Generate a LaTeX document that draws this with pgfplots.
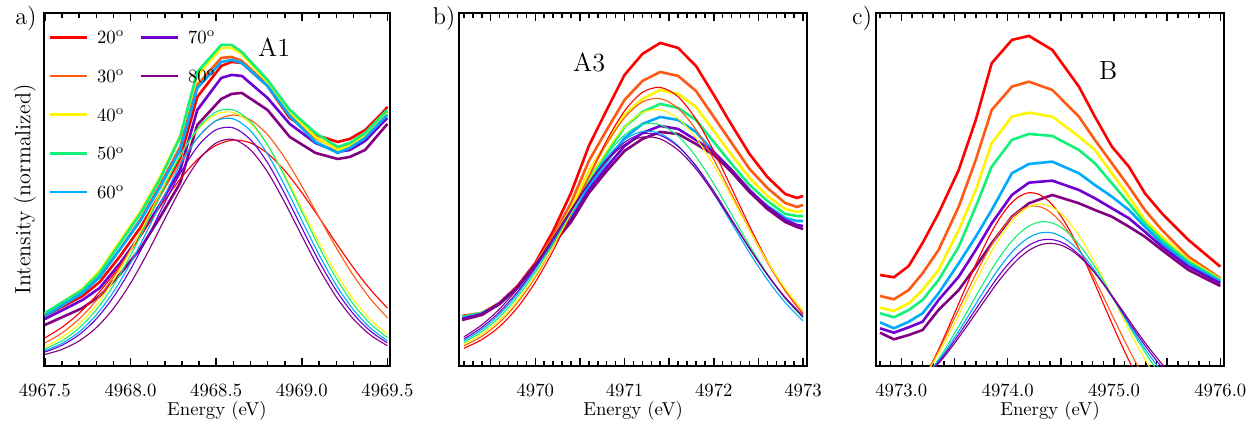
\documentclass[border=0pt]{standalone}
\usepackage{pgfplots}
\usepackage{pgfplotstable}
\pgfplotsset{compat=1.18}
\definecolor{c20}{RGB}{255,0,0}
\definecolor{c30}{RGB}{255,90,20}
\definecolor{c40}{RGB}{255,245,0}
\definecolor{c50}{RGB}{20,240,120}
\definecolor{c60}{RGB}{0,170,255}
\definecolor{c70}{RGB}{110,0,210}
\definecolor{c80}{RGB}{130,0,130}

% ---------- panel a ----------
\pgfplotstableread{
E r o y g b v p
4967.50 50 51 52 53 50 47 41
4967.72 70 74 77 76 73 66 58
4967.82 84 89 95 93 89 78 70
4967.94 110 117 125 123 117 103 92
4968.06 139 147 155 153 146 131 118
4968.17 171 180 188 186 178 161 148
4968.29 208 219 230 229 216 196 183
4968.39 269 281 290 294 278 256 241
4968.53 300 308 318 321 304 288 267
4968.59 304 309 318 321 306 291 272
4968.65 303 305 312 314 303 290 273
4968.80 280 281 284 286 280 268 256
4968.93 248 251 254 256 250 242 229
4969.08 231 228 229 233 224 223 213
4969.21 224 217 216 219 213 214 207
4969.28 227 221 220 223 218 216 209
4969.37 236 231 230 233 228 225 216
4969.47 253 249 248 251 246 243 236
4969.50 259 254 253 256 251 248 242
}\thickA
\pgfplotstableread{
E r o y g b v p
4967.5 28.1 23.0 19.2 17.0 15.2 14.0 11.5
4967.6 38.7 33.0 28.4 25.3 22.6 20.7 16.6
4967.7 52.7 47.0 42.0 38.0 34.1 31.3 25.1
4967.8 70.4 65.5 60.8 56.1 51.0 47.1 38.3
4967.9 91.4 88.8 85.4 80.4 73.9 68.8 57.4
4968.0 115.2 116.3 115.0 110.4 102.8 96.5 82.7
4968.1 140.6 146.5 148.3 144.6 136.1 128.9 113.3
4968.2 165.9 177.4 182.3 180.2 171.2 163.2 146.9
4968.3 189.0 206.1 213.4 213.2 204.0 195.5 179.5
4968.4 207.9 229.7 237.7 239.1 230.0 221.2 206.4
4968.5 220.6 245.3 251.7 254.2 245.2 236.2 223.0
4968.6 225.9 251.0 253.5 256.1 247.1 238.1 226.6
4968.7 223.1 246.1 242.6 244.4 235.3 226.4 216.2
4968.8 212.6 231.3 220.8 221.1 211.9 203.3 194.0
4968.9 195.5 208.3 191.2 189.6 180.6 172.4 163.7
4969.0 173.4 179.9 157.6 154.3 145.7 138.2 130.1
4969.1 148.6 149.0 123.8 119.4 111.5 104.9 97.6
4969.2 123.1 118.6 93.0 88.0 81.2 75.8 69.4
4969.3 98.6 90.9 66.9 62.1 56.6 52.4 47.2
4969.4 76.6 67.3 46.5 42.3 38.1 35.0 31.1
4969.5 57.9 48.3 31.6 28.3 25.3 23.1 20.3
}\thinA

% ---------- panel b ----------
\pgfplotstableread{
E r o y g b v p
4969.18 50 49 49 49 48 47 46
4969.40 53 53 53 53 52 52 51
4969.60 63 63 63 62 62 63 62
4969.80 80 79 79 78 78 79 79
4970.00 103 101 101 101 100 101 101
4970.20 135 130 127 125 123 123 122
4970.40 173 163 157 152 148 146 144
4970.60 220 205 195 187 180 176 173
4970.80 256 236 223 213 204 199 195
4971.00 291 266 251 239 228 220 215
4971.20 312 285 267 254 242 233 227
4971.40 323 294 276 262 249 240 234
4971.60 318 290 272 258 246 237 232
4971.80 300 275 259 246 234 226 222
4972.00 271 249 235 224 214 214 211
4972.20 241 223 211 202 194 196 194
4972.40 212 197 188 181 174 176 174
4972.60 189 178 170 165 160 159 157
4972.80 172 163 157 152 148 146 144
4972.93 168 159 154 150 145 141 139
4973.00 170 161 155 150 145 140 137
}\thickB
\pgfplotstableread{
E r o y g b v p
4969.2 17.7 20.1 21.8 23.6 25.3 27.0 29.1
4969.4 26.4 29.7 31.9 34.3 36.5 38.6 41.1
4969.6 39.5 43.7 46.2 49.2 51.8 54.1 57.1
4969.8 58.5 63.3 65.7 69.1 72.0 74.2 77.3
4970.0 83.8 88.7 90.4 93.8 96.7 98.5 101.5
4970.2 115.3 119.5 119.8 122.5 124.9 126.0 128.4
4970.4 151.5 154.0 152.3 153.5 154.8 154.9 156.4
4970.6 189.5 189.3 185.1 183.9 183.6 182.5 182.8
4970.8 225.5 222.1 215.2 210.8 208.4 206.4 205.4
4971.0 255.0 248.2 239.0 230.9 226.2 223.6 221.4
4971.2 273.5 264.0 253.4 241.5 234.5 232.1 228.9
4971.4 278.5 267.3 256.3 241.1 232.4 230.6 227.0
4971.6 269.2 257.6 247.5 229.9 220.1 219.5 215.9
4971.8 246.8 236.3 228.1 209.4 199.2 200.1 197.1
4972.0 214.9 206.3 200.7 182.1 172.3 174.8 172.5
4972.2 177.7 171.7 168.8 151.4 142.7 146.4 145.1
4972.4 140.0 136.4 135.8 120.7 113.3 117.9 117.5
4972.6 105.0 103.5 104.6 92.1 86.4 91.2 91.4
4972.8 75.3 75.3 77.4 67.7 63.4 68.0 68.7
4973.0 52.0 52.8 55.3 48.1 45.1 49.2 50.1
}\thinB

% ---------- panel c ----------
\pgfplotstableread{
E r o y g b v p
4972.80 91.0 70.0 58.3 52.7 43.7 37.7 33.3
4972.93 88.7 66.7 55.0 48.7 37.7 33.3 26.7
4973.07 100.0 76.0 62.7 56.0 44.3 38.7 31.0
4973.20 123.0 92.7 76.0 66.0 52.7 44.3 36.0
4973.35 152.7 116.0 96.0 86.0 72.7 66.0 56.0
4973.54 196.0 159.3 136.0 119.3 102.7 89.3 76.0
4973.70 246.0 206.0 176.0 159.3 129.3 116.0 99.3
4973.85 302.7 256.0 222.7 199.3 156.0 142.7 122.7
4974.04 326.0 279.3 249.3 226.0 192.7 171.0 149.3
4974.20 330.0 284.3 253.3 232.0 202.0 183.3 162.7
4974.42 316.0 276.0 249.3 230.0 204.3 185.3 171.0
4974.67 279.3 249.3 229.3 216.0 192.7 176.0 162.7
4974.82 249.3 226.0 216.0 202.7 181.0 167.7 156.0
4974.98 219.3 202.7 192.7 182.7 169.3 157.7 149.3
4975.14 199.3 179.3 169.3 162.7 156.0 147.7 139.3
4975.29 172.7 156.0 146.0 142.7 139.3 134.3 129.3
4975.45 152.7 136.0 129.3 126.0 122.7 119.3 116.0
4975.70 126.0 109.3 106.0 104.3 102.0 99.3 96.0
4976.00 99.3 87.7 86.7 86.0 84.3 82.7 80.0
}\thickC
\pgfplotstableread{
E r o y g b v p
4973.2 -15.1 -13.6 -13.6 -15.3 -14.6 -13.9 -14.3
4973.3 5.5 5.2 3.4 -1.1 -2.0 -2.4 -3.5
4973.4 28.2 25.8 22.2 14.9 12.4 10.7 8.8
4973.5 52.6 47.8 42.7 32.5 28.3 25.3 22.6
4973.6 77.3 70.0 63.8 50.9 45.0 40.8 37.3
4973.7 101.5 91.8 85.0 69.6 62.1 56.8 52.6
4973.8 124.0 112.1 105.3 87.8 78.9 72.6 67.9
4973.9 143.5 129.9 124.0 105.0 94.9 87.8 82.7
4974.0 158.8 144.2 139.6 119.8 108.9 101.2 95.9
4974.1 168.9 154.2 151.6 131.6 120.3 112.4 107.1
4974.2 173.2 159.4 159.3 139.9 128.5 120.7 115.6
4974.3 171.3 159.3 162.0 143.9 132.9 125.5 120.9
4974.4 163.5 154.0 159.7 143.6 133.4 126.6 122.7
4974.5 150.1 143.8 152.5 138.8 129.8 124.0 120.8
4974.6 132.3 129.4 140.9 130.0 122.4 117.7 115.5
4974.7 110.9 111.5 125.6 117.7 111.7 108.2 106.9
4974.8 87.0 90.9 107.2 102.4 98.1 96.0 95.6
4974.9 62.4 69.2 87.0 85.2 82.6 81.8 82.3
4975.0 37.9 47.0 65.8 66.7 66.0 66.4 67.6
4975.1 14.5 25.2 44.6 48.1 48.8 50.4 52.3
4975.2 -7.2 4.5 24.0 29.6 31.8 34.4 36.9
4975.3 -26.3 -14.3 5.1 12.4 15.8 19.3 22.2
4975.4 -42.7 -30.9 -12.1 -3.3 1.2 5.3 8.6
4975.5 -56.4 -45.4 -27.2 -17.4 -12.0 -7.3 -3.8
4975.6 -70.0 -60.0 -40.0 -29.3 -23.1 -18.1 -14.6
}\thinC

\pgfplotsset{
  panel/.style={
    scale only axis, width=185.1pt, height=188.9pt,
    anchor=south west,
    ymin=0, ymax=353, ytick=\empty,
    axis line style={line width=1.3pt},
    tick align=inside, xtick pos=both,
    major tick length=4.5pt, minor tick length=2.5pt,
    tick style={black, line width=0.8pt},
    xticklabel style={font=\fontsize{10}{12}\selectfont, yshift=-6pt},
    xlabel={Energy (eV)},
    xlabel style={at={(axis description cs:0.5,0)}, anchor=center, yshift=-23.8pt, font=\fontsize{10}{12}\selectfont},
    clip mode=individual,
  },
  thk/.style={line width=1.4pt},
  thn/.style={line width=0.6pt, smooth, forget plot},
}

\begin{document}
\begin{tikzpicture}
\path[use as bounding box] (0,0) rectangle (674.1pt,-228.4pt);

% ---------------- a ----------------
\begin{axis}[panel, at={(23.54pt,-195.81pt)},
  xmin=4967.495, xmax=4969.515,
  xtick={4967.5,4968,4968.5,4969,4969.5},
  xticklabels={4967.5,4968.0,4968.5,4969.0,4969.5},
  minor xtick={4967.6,4967.7,...,4969.45},
  ylabel={Intensity (normalized)},
  ylabel style={at={(axis description cs:-0.055,0.5)}, anchor=center, font=\fontsize{11.8}{14}\selectfont},
  legend columns=2,
  legend cell align=left,
  legend image code/.code={\draw[#1, line width=1.4pt] (0cm,0cm) -- (0.7cm,0cm);},
  legend style={at={(axis description cs:0.0113,1)}, anchor=north west, yshift=-6.3pt,
    draw=none, fill=none, inner sep=0pt, row sep=7.7pt,
    font=\fontsize{10}{12}\selectfont,
    nodes={inner sep=2pt, text height=8pt, text depth=1pt},
    /tikz/every odd column/.append style={column sep=2.8pt},
    /tikz/every even column/.append style={column sep=6.1pt}},
]
\addplot[thk, c20] table[x=E,y=r]{\thickA}; \addlegendentry{20$^{\mathrm{o}}$}
\addplot[thk, c70] table[x=E,y=v]{\thickA}; \addlegendentry{70$^{\mathrm{o}}$}
\addplot[thk, c30] table[x=E,y=o]{\thickA}; \addlegendentry{30$^{\mathrm{o}}$}
\addplot[thk, c80] table[x=E,y=p]{\thickA}; \addlegendentry{80$^{\mathrm{o}}$}
\addplot[thk, c40] table[x=E,y=y]{\thickA}; \addlegendentry{40$^{\mathrm{o}}$}
\addlegendimage{empty legend} \addlegendentry{\mbox{}}
\addplot[thk, c50] table[x=E,y=g]{\thickA}; \addlegendentry{50$^{\mathrm{o}}$}
\addlegendimage{empty legend} \addlegendentry{\mbox{}}
\addplot[thk, c60] table[x=E,y=b]{\thickA}; \addlegendentry{60$^{\mathrm{o}}$}
\addplot[thn, c20] table[x=E,y=r]{\thinA};
\addplot[thn, c30] table[x=E,y=o]{\thinA};
\addplot[thn, c40] table[x=E,y=y]{\thinA};
\addplot[thn, c50] table[x=E,y=g]{\thinA};
\addplot[thn, c60] table[x=E,y=b]{\thinA};
\addplot[thn, c70] table[x=E,y=v]{\thinA};
\addplot[thn, c80] table[x=E,y=p]{\thinA};
\node[font=\fontsize{14}{16}\selectfont] at (axis description cs:0.665,0.904) {A1};
\node[font=\fontsize{13}{15}\selectfont] at (axis description cs:-0.052,0.983) {a)};
\end{axis}

% ---------------- b ----------------
\begin{axis}[panel, at={(245.57pt,-195.81pt)}, width=186.2pt,
  xmin=4969.145, xmax=4973.045,
  xtick={4969.5,4970,4970.5,4971,4971.5,4972,4972.5,4973},
  xticklabels={,4970,,4971,,4972,,4973},
  minor xtick={4969.2,4969.3,...,4973.05},
]
\addplot[thk, c20] table[x=E,y=r]{\thickB};
\addplot[thk, c30] table[x=E,y=o]{\thickB};
\addplot[thk, c40] table[x=E,y=y]{\thickB};
\addplot[thk, c50] table[x=E,y=g]{\thickB};
\addplot[thk, c60] table[x=E,y=b]{\thickB};
\addplot[thk, c70] table[x=E,y=v]{\thickB};
\addplot[thk, c80] table[x=E,y=p]{\thickB};
\addplot[thn, c20] table[x=E,y=r]{\thinB};
\addplot[thn, c30] table[x=E,y=o]{\thinB};
\addplot[thn, c40] table[x=E,y=y]{\thinB};
\addplot[thn, c50] table[x=E,y=g]{\thinB};
\addplot[thn, c60] table[x=E,y=b]{\thinB};
\addplot[thn, c70] table[x=E,y=v]{\thinB};
\addplot[thn, c80] table[x=E,y=p]{\thinB};
\node[font=\fontsize{14}{16}\selectfont] at (axis description cs:0.374,0.861) {A3};
\node[font=\fontsize{13}{15}\selectfont] at (axis description cs:-0.043,0.983) {b)};
\end{axis}

% ---------------- c ----------------
\begin{axis}[panel, at={(468.66pt,-195.81pt)}, width=186.2pt,
  xmin=4972.762, xmax=4976.035,
  xtick={4973,4973.5,4974,4974.5,4975,4975.5,4976},
  xticklabels={4973.0,,4974.0,,4975.0,,4976.0},
  minor xtick={4972.8,4972.9,...,4976.05},
]
\addplot[thk, c20] table[x=E,y=r]{\thickC};
\addplot[thk, c30] table[x=E,y=o]{\thickC};
\addplot[thk, c40] table[x=E,y=y]{\thickC};
\addplot[thk, c50] table[x=E,y=g]{\thickC};
\addplot[thk, c60] table[x=E,y=b]{\thickC};
\addplot[thk, c70] table[x=E,y=v]{\thickC};
\addplot[thk, c80] table[x=E,y=p]{\thickC};
\addplot[thn, c20] table[x=E,y=r]{\thinC};
\addplot[thn, c30] table[x=E,y=o]{\thinC};
\addplot[thn, c40] table[x=E,y=y]{\thinC};
\addplot[thn, c50] table[x=E,y=g]{\thinC};
\addplot[thn, c60] table[x=E,y=b]{\thinC};
\addplot[thn, c70] table[x=E,y=v]{\thinC};
\addplot[thn, c80] table[x=E,y=p]{\thinC};
\node[font=\fontsize{14}{16}\selectfont] at (axis description cs:0.667,0.836) {B};
\node[font=\fontsize{13}{15}\selectfont] at (axis description cs:-0.040,0.983) {c)};
\end{axis}
\end{tikzpicture}
\end{document}
